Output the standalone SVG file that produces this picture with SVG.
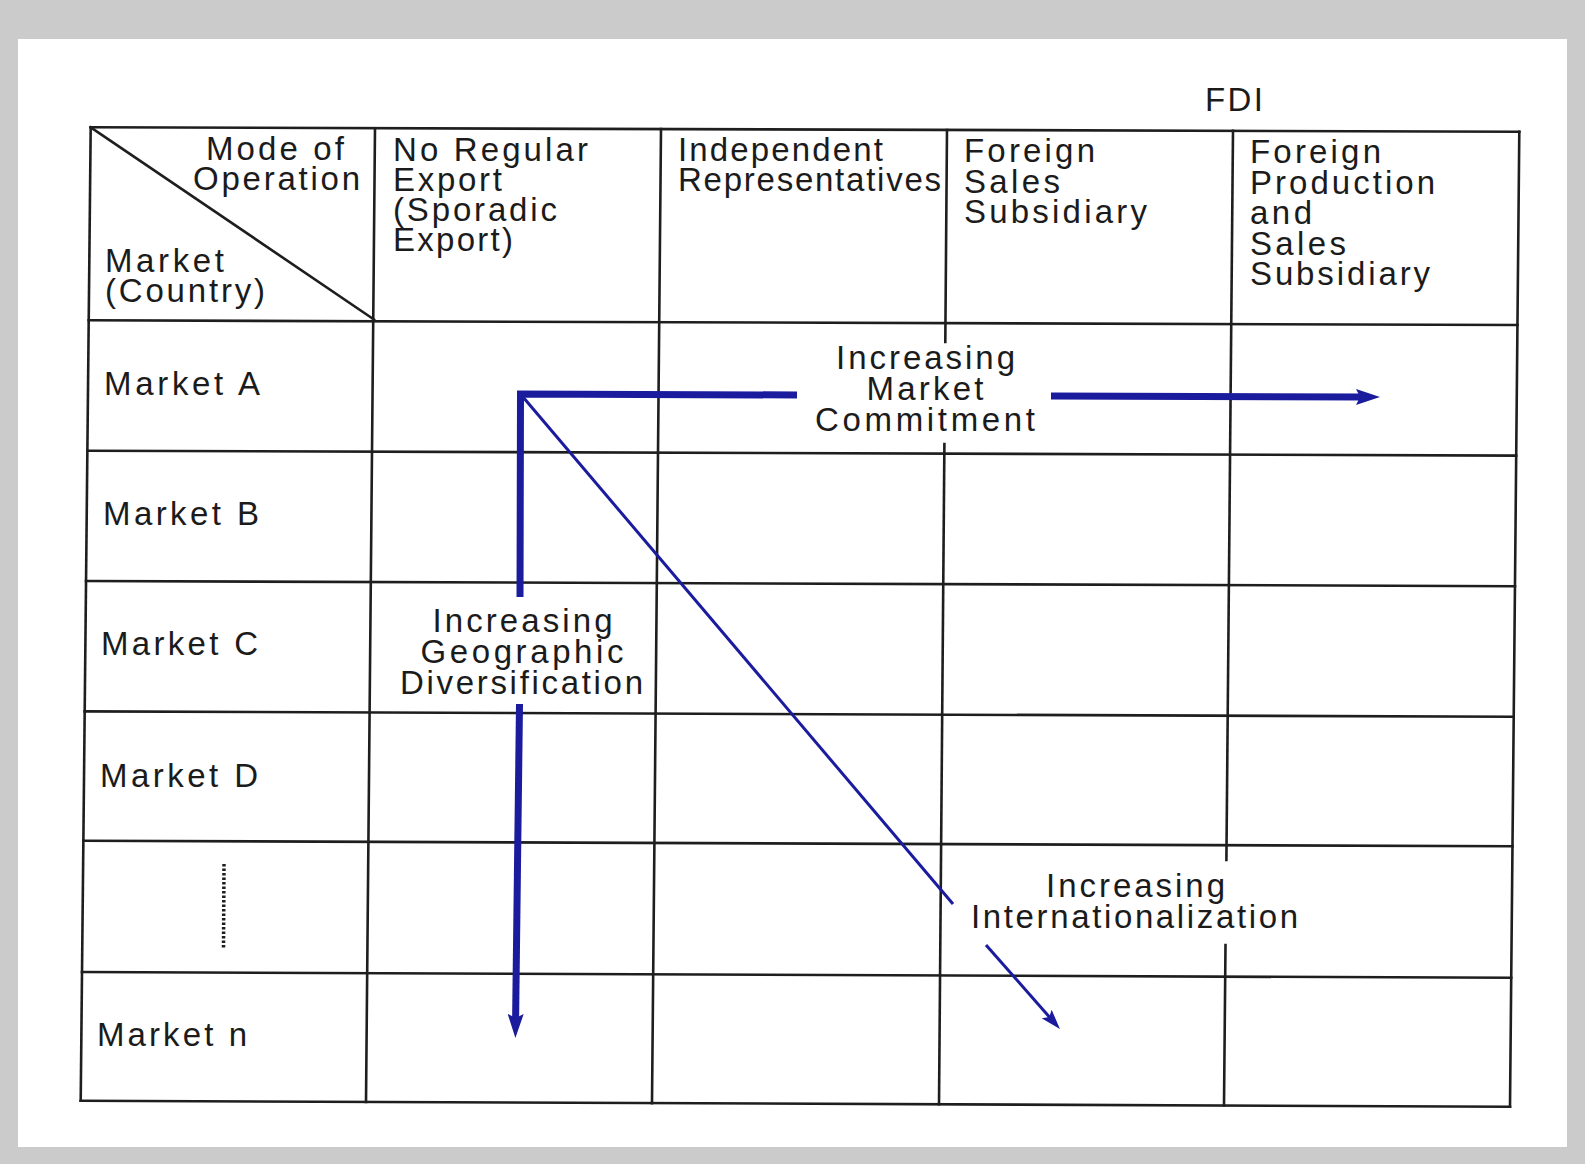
<svg xmlns="http://www.w3.org/2000/svg" width="1585" height="1164" viewBox="0 0 1585 1164">
<defs>
<style>
.bg{fill:#cbcbcb}
.page{fill:#ffffff}
.grid line{stroke:#1e1e1e;stroke-width:2.6;stroke-linecap:square}
.t{font-family:"Liberation Sans",Arial,Helvetica,sans-serif;font-size:33px;fill:#1b1b1b}
.thick{fill:none;stroke:#1b1b9e;stroke-width:7;stroke-linejoin:miter}
.thin{fill:none;stroke:#1b1b9e;stroke-width:3}
</style>
<marker id="headThick" viewBox="0 0 24 16" refX="6" refY="8" markerWidth="24" markerHeight="16" markerUnits="userSpaceOnUse" orient="auto">
<path d="M0,0 L24,8 L0,16 L4,8 Z" fill="#1b1b9e"/>
</marker>
<marker id="headThin" viewBox="0 0 20 13" refX="6" refY="6.5" markerWidth="20" markerHeight="13" markerUnits="userSpaceOnUse" orient="auto">
<path d="M0,0 L20,6.5 L0,13 L4,6.5 Z" fill="#1b1b9e"/>
</marker>
</defs>
<rect class="bg" x="0" y="0" width="1585" height="1164"/>
<rect class="page" x="18" y="39" width="1549" height="1108"/>

<g id="grid" class="grid">
<line x1="90.7" y1="127.3" x2="1519.3" y2="131.7"/>
<line x1="88.7" y1="320.3" x2="1517.5" y2="325"/>
<line x1="87.4" y1="450.7" x2="1516.2" y2="455.6"/>
<line x1="86" y1="581" x2="1515" y2="586.2"/>
<line x1="84.7" y1="711.4" x2="1513.7" y2="716.8"/>
<line x1="83.4" y1="840.7" x2="1512.5" y2="846.3"/>
<line x1="82" y1="972" x2="1511.2" y2="977.8"/>
<line x1="80.7" y1="1100.7" x2="1510" y2="1106.7"/>
<line x1="90.7" y1="127.3" x2="80.7" y2="1100.7"/>
<line x1="375" y1="128.2" x2="366" y2="1101.9"/>
<line x1="661" y1="129.1" x2="652" y2="1103.1"/>
<line x1="947" y1="130" x2="945.3" y2="342"/>
<line x1="944.4" y1="444" x2="939" y2="1104.3"/>
<line x1="1233" y1="130.8" x2="1226.4" y2="860"/>
<line x1="1225.5" y1="945" x2="1224" y2="1105.5"/>
<line x1="1519.3" y1="131.7" x2="1510" y2="1106.7"/>
<line x1="90.7" y1="127.3" x2="374" y2="319.5"/>
</g>

<g id="fdi-label"><text class="t" x="1205" y="111" textLength="58" lengthAdjust="spacing">FDI</text></g>

<g id="header-corner">
<text class="t" x="206" y="160" textLength="138" lengthAdjust="spacing">Mode of</text>
<text class="t" x="193" y="190" textLength="167" lengthAdjust="spacing">Operation</text>
<text class="t" x="105" y="272" textLength="119" lengthAdjust="spacing">Market</text>
<text class="t" x="105" y="302" textLength="160" lengthAdjust="spacing">(Country)</text>
</g>
<g id="header-no-regular-export">
<text class="t" x="393" y="160.5" textLength="195" lengthAdjust="spacing">No Regular</text>
<text class="t" x="393" y="190.5" textLength="109" lengthAdjust="spacing">Export</text>
<text class="t" x="393" y="220.5" textLength="164" lengthAdjust="spacing">(Sporadic</text>
<text class="t" x="393" y="250.5" textLength="120" lengthAdjust="spacing">Export)</text>
</g>
<g id="header-independent-representatives">
<text class="t" x="678" y="161" textLength="205" lengthAdjust="spacing">Independent</text>
<text class="t" x="678" y="191" textLength="263" lengthAdjust="spacing">Representatives</text>
</g>
<g id="header-foreign-sales-subsidiary">
<text class="t" x="964" y="162" textLength="131" lengthAdjust="spacing">Foreign</text>
<text class="t" x="964" y="192.5" textLength="96" lengthAdjust="spacing">Sales</text>
<text class="t" x="964" y="223" textLength="183" lengthAdjust="spacing">Subsidiary</text>
</g>
<g id="header-foreign-production-sales-subsidiary">
<text class="t" x="1250" y="163" textLength="131" lengthAdjust="spacing">Foreign</text>
<text class="t" x="1250" y="193.5" textLength="185" lengthAdjust="spacing">Production</text>
<text class="t" x="1250" y="224" textLength="62" lengthAdjust="spacing">and</text>
<text class="t" x="1250" y="254.5" textLength="96" lengthAdjust="spacing">Sales</text>
<text class="t" x="1250" y="285" textLength="180" lengthAdjust="spacing">Subsidiary</text>
</g>

<g id="row-market-a"><text class="t" x="104" y="394.5" textLength="156" lengthAdjust="spacing">Market A</text></g>
<g id="row-market-b"><text class="t" x="103" y="525" textLength="156" lengthAdjust="spacing">Market B</text></g>
<g id="row-market-c"><text class="t" x="101" y="655" textLength="157" lengthAdjust="spacing">Market C</text></g>
<g id="row-market-d"><text class="t" x="100" y="786.5" textLength="158" lengthAdjust="spacing">Market D</text></g>
<g id="row-ellipsis"><line x1="224" y1="864" x2="223.5" y2="948" stroke="#1e1e1e" stroke-width="3.5" stroke-dasharray="2.5 2"/></g>
<g id="row-market-n"><text class="t" x="97" y="1046" textLength="150" lengthAdjust="spacing">Market n</text></g>

<g id="label-market-commitment">
<text class="t" x="836" y="369" textLength="179" lengthAdjust="spacing">Increasing</text>
<text class="t" x="866.5" y="400" textLength="117" lengthAdjust="spacing">Market</text>
<text class="t" x="815" y="431" textLength="220" lengthAdjust="spacing">Commitment</text>
</g>
<g id="label-geographic-diversification">
<text class="t" x="432.5" y="632" textLength="180" lengthAdjust="spacing">Increasing</text>
<text class="t" x="420.5" y="662.5" textLength="203" lengthAdjust="spacing">Geographic</text>
<text class="t" x="400" y="693.5" textLength="243" lengthAdjust="spacing">Diversification</text>
</g>
<g id="label-internationalization">
<text class="t" x="1046" y="897" textLength="179" lengthAdjust="spacing">Increasing</text>
<text class="t" x="971" y="928" textLength="327" lengthAdjust="spacing">Internationalization</text>
</g>

<g id="connectors">
<polyline class="thick" points="520,597 520.5,394 797,395"/>
<line class="thick" x1="1051" y1="396" x2="1362" y2="397" marker-end="url(#headThick)"/>
<line class="thick" x1="519.5" y1="704" x2="515.6" y2="1020" marker-end="url(#headThick)"/>
<line class="thin" x1="523" y1="397" x2="953" y2="904"/>
<line class="thin" x1="986" y1="945" x2="1050.7" y2="1018.5" marker-end="url(#headThin)"/>
</g>
</svg>
